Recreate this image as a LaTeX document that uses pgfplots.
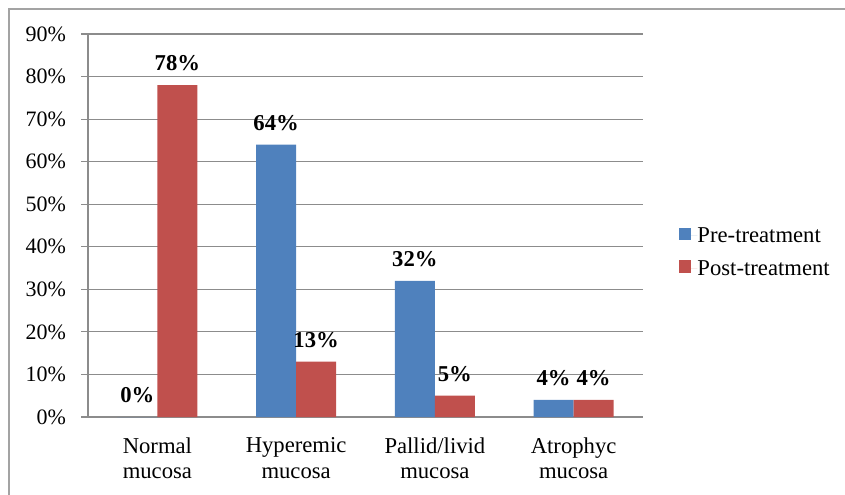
\documentclass[border=0pt]{standalone}
\usepackage{pgfplots}
\pgfplotsset{compat=1.18}
\usepackage{fontspec}
\setmainfont{Liberation Serif}
\definecolor{cblue}{HTML}{4F81BD}
\definecolor{cred}{HTML}{C0504D}
\definecolor{cgrid}{HTML}{8C8C8C}
\begin{document}
\begin{tikzpicture}[x=0.75pt,y=0.75pt]
\useasboundingbox (0,0) rectangle (845,494);
\draw[color=cgrid!80,line width=1.2pt] (9,-5) -- (9,485) -- (850,485);
\begin{axis}[
  at={(66pt,57.75pt)}, anchor=south west,
  scale only axis, width=416.25pt, height=287.25pt,
  ybar=0pt, bar width=30pt,
  xmin=-0.5, xmax=3.5, ymin=0, ymax=90,
  axis x line*=bottom, axis y line*=left,
  axis line style={cgrid, line width=0.9pt},
  ytick={0,10,...,90},
  yticklabels={0\%,10\%,20\%,30\%,40\%,50\%,60\%,70\%,80\%,90\%},
  ymajorgrids, grid style={cgrid, line width=0.9pt},
  xtick={0,1,2,3},
  xticklabels={Normal\\mucosa, Hyperemic\\mucosa, Pallid/livid\\mucosa, Atrophyc\\mucosa},
  x tick label style={align=center, font=\fontsize{17}{19}\selectfont, yshift=-7pt},
  y tick label style={font=\fontsize{16.5}{19}\selectfont, xshift=-8pt},
  major x tick style={draw=none},
  extra x ticks={-0.5,0.5,1.5,2.5,3.5},
  extra x tick labels={},
  extra x tick style={tick style={cgrid, line width=0.9pt}, major tick length=5pt, tick align=outside, grid=none},
  major tick length=5pt, tick align=outside,
  y tick style={cgrid, line width=0.9pt},
  /pgf/number format/assume math mode=true,
  nodes near coords={\pgfmathprintnumber{\pgfplotspointmeta}\%},
  every node near coord/.append style={font=\bfseries\fontsize{17}{19}\selectfont, anchor=center, yshift=16.5pt},
  legend style={at={(1.065,0.43)}, anchor=west, draw=none, font=\fontsize{17}{19}\selectfont, row sep=12pt, inner sep=0pt,
    nodes={inner sep=0pt, anchor=west}},
  legend image code/.code={\fill[#1] (0cm,-0.1cm) rectangle (0.32cm,0.22cm); \path (0cm,0cm) -- (0.32cm+4.5pt,0cm);},
  clip=false,
]
\addplot[fill=cblue, draw=none] coordinates {(0,0) (1,64) (2,32) (3,4)};
\addlegendentry{Pre-treatment}
\addplot[fill=cred, draw=none] coordinates {(0,78) (1,13) (2,5) (3,4)};
\addlegendentry{Post-treatment}
\end{axis}
\end{tikzpicture}
\end{document}
